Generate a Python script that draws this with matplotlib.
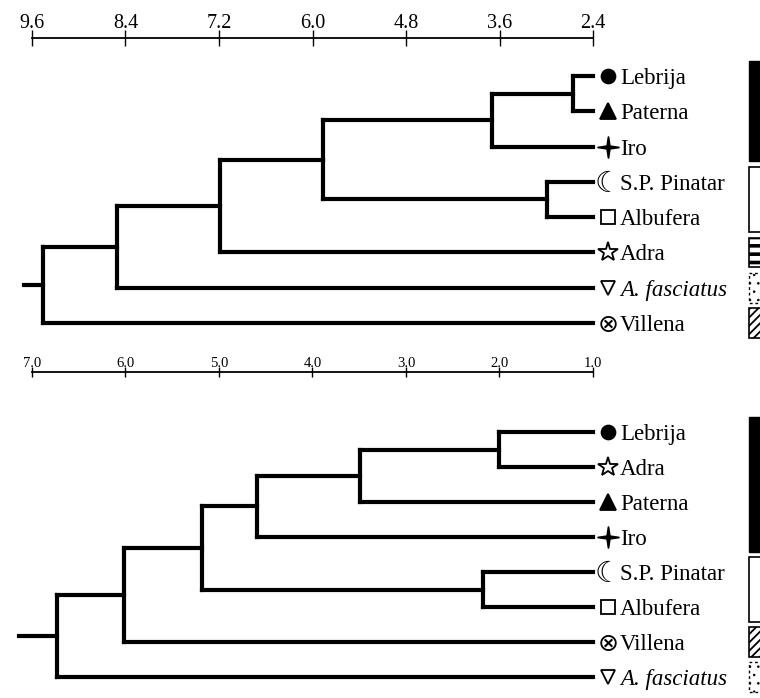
import numpy as np
import matplotlib
matplotlib.use("Agg")
import matplotlib.pyplot as plt
from matplotlib.patches import Rectangle
from matplotlib.path import Path
from matplotlib.transforms import offset_copy, blended_transform_factory

plt.rcParams['font.family'] = ['Liberation Serif', 'DejaVu Serif']
plt.rcParams['hatch.linewidth'] = 1.3

# ---- data -------------------------------------------------------------
top_ticks = [9.6, 8.4, 7.2, 6.0, 4.8, 3.6, 2.4]
top_leaves = ['Lebrija', 'Paterna', 'Iro', 'S.P. Pinatar', 'Albufera',
              'Adra', 'A. fasciatus', 'Villena']
# (child, child, height); new node ids continue after the leaves
top_links = [(0, 1, 2.66), (8, 2, 3.70), (3, 4, 2.99), (9, 10, 5.87),
             (11, 5, 7.19), (12, 6, 8.51), (13, 7, 9.46)]
top_root_tip = 9.70
top_groups = [(0, 2, 'black'), (3, 4, 'white'), (5, 5, 'stripes'),
              (6, 6, 'dots'), (7, 7, 'diag')]

bot_ticks = [7.0, 6.0, 5.0, 4.0, 3.0, 2.0, 1.0]
bot_leaves = ['Lebrija', 'Adra', 'Paterna', 'Iro', 'S.P. Pinatar',
              'Albufera', 'Villena', 'A. fasciatus']
bot_links = [(0, 1, 2.00), (8, 2, 3.49), (9, 3, 4.59), (4, 5, 2.18),
             (10, 11, 5.18), (12, 6, 6.02), (13, 7, 6.73)]
bot_root_tip = 7.14
bot_groups = [(0, 3, 'black'), (4, 5, 'white'), (6, 6, 'diag'),
              (7, 7, 'dots')]

# ---- symbols ------------------------------------------------------------
four_star = Path([(0, 1), (0.13, 0.13), (1, 0), (0.13, -0.13), (0, -1),
                  (-0.13, -0.13), (-1, 0), (-0.13, 0.13), (0, 1)],
                 [Path.MOVETO] + [Path.LINETO] * 7 + [Path.CLOSEPOLY])

symbols = {
    'Lebrija': dict(marker='o', ms=10, mfc='black'),
    'Paterna': dict(marker='^', ms=11, mfc='black'),
    'Iro': dict(marker=four_star, ms=15, mfc='black'),
    'S.P. Pinatar': dict(glyph='\u263E', size=21),
    'Albufera': dict(marker='s', ms=10, mfc='white'),
    'Adra': dict(marker='*', ms=15, mfc='white'),
    'A. fasciatus': dict(marker='v', ms=10, mfc='white'),
    'Villena': dict(glyph='\u2297', size=18),
}

box_styles = {
    'black': dict(facecolor='black', edgecolor='black'),
    'white': dict(facecolor='white', edgecolor='black', lw=1.2),
    'stripes': dict(facecolor='white', edgecolor='black', hatch='--', lw=1.2),
    'dots': dict(facecolor='white', edgecolor='black', hatch='..', lw=1.0,
                 ls=(0, (2, 2))),
    'diag': dict(facecolor='white', edgecolor='black', hatch='////', lw=1.2),
}
hatch_widths = {'stripes': 2.6, 'dots': 0.6, 'diag': 1.3}

fig = plt.figure(figsize=(7.6, 6.98), dpi=100)
W, H = 760.0, 698.0


def draw_tree(ax, leaves, links, root_tip, groups, ticks, tick_size, tick_len):
    n = len(leaves)
    ypos = {i: float(i) for i in range(n)}
    xpos = {i: ticks[-1] for i in range(n)}
    for k, (a, b, h) in enumerate(links):
        node = n + k
        for c in (a, b):
            ax.plot([xpos[c], h], [ypos[c], ypos[c]], color='black', lw=3,
                    solid_capstyle='projecting', clip_on=False)
        ax.plot([h, h], [ypos[a], ypos[b]], color='black', lw=3,
                solid_capstyle='projecting', clip_on=False)
        xpos[node] = h
        ypos[node] = (ypos[a] + ypos[b]) / 2
    root = n + len(links) - 1
    ax.plot([xpos[root], root_tip], [ypos[root], ypos[root]], color='black',
            lw=3, clip_on=False)

    mark_tr = offset_copy(ax.transData, fig=fig, x=15, y=0, units='dots')
    glyph_tr = offset_copy(ax.transData, fig=fig, x=15, y=-2, units='dots')
    text_tr = offset_copy(ax.transData, fig=fig, x=27, y=-8, units='dots')
    for i, name in enumerate(leaves):
        s = symbols[name]
        if 'glyph' in s:
            ax.text(ticks[-1], i, s['glyph'], transform=glyph_tr, ha='center',
                    va='center', fontsize=s['size'], family='DejaVu Sans')
        else:
            ax.plot([ticks[-1]], [i], transform=mark_tr, marker=s['marker'],
                    ms=s['ms'], mfc=s['mfc'], mec='black', mew=1.3,
                    clip_on=False)
        style = 'italic' if name == 'A. fasciatus' else 'normal'
        ax.text(ticks[-1], i, name, transform=text_tr, ha='left',
                va='baseline', fontsize=16.5, style=style)

    btr = blended_transform_factory(ax.transAxes, ax.transData)
    for lo, hi, key in groups:
        box = Rectangle((1.278, lo - 0.42), 0.1, hi - lo + 0.84,
                        transform=btr, clip_on=False, **box_styles[key])
        if key in hatch_widths and hasattr(box, 'set_hatch_linewidth'):
            box.set_hatch_linewidth(hatch_widths[key])
        ax.add_patch(box)

    ax.set_xlim(ticks[0], ticks[-1])
    for side in ('left', 'right', 'bottom'):
        ax.spines[side].set_visible(False)
    ax.spines['top'].set_linewidth(1.3)
    ax.set_yticks([])
    ax.set_xticks(ticks)
    ax.set_xticklabels(['%.1f' % t for t in ticks])
    ax.xaxis.tick_top()
    ax.tick_params(axis='x', direction='inout', length=tick_len, width=1.0,
                   labelsize=tick_size, pad=-2)
    ax.patch.set_visible(False)


# top panel: scale line at y=38 px, leaves 76..323 px
ax1 = fig.add_axes([32 / W, 1 - 335 / H, 561 / W, (335 - 38) / H])
draw_tree(ax1, top_leaves, top_links, top_root_tip, top_groups, top_ticks,
          14.5, 11)
ax1.set_ylim(7 + 12 / 35.3, -38 / 35.3)

# bottom panel: scale line at y=372 px, leaves 432..677 px
ax2 = fig.add_axes([32 / W, 1 - 690 / H, 561 / W, (690 - 372) / H])
draw_tree(ax2, bot_leaves, bot_links, bot_root_tip, bot_groups, bot_ticks,
          10.5, 7)
ax2.set_ylim(7 + 13 / 35.0, -60 / 35.0)

fig.savefig('out.png', dpi=100)
